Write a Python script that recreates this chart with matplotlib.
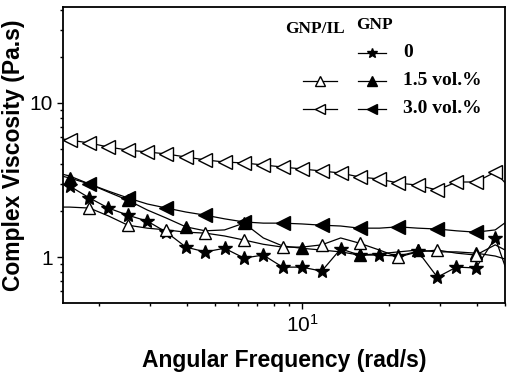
import numpy as np
import matplotlib
matplotlib.use('Agg')
import matplotlib.pyplot as plt
from matplotlib.lines import Line2D
from matplotlib.ticker import FixedLocator, FixedFormatter, NullFormatter, LogLocator

plt.rcParams.update({'mathtext.default': 'regular', 'font.family': 'Liberation Sans'})
tnr = 'Liberation Serif'

# angular frequency (rad/s)
freq = [1.36, 1.58, 1.85, 2.15, 2.51, 2.93, 3.41, 3.98, 4.64, 5.41, 6.31, 7.36, 8.58,
        10.0, 11.7, 13.6, 15.8, 18.5, 21.5, 25.1, 29.3, 34.1, 39.8, 46.4, 54.1]

# complex viscosity (Pa.s)
gnp_0 = [3.2, 2.89, 2.42, 2.08, 1.87, 1.71, 1.45, 1.16, 1.08, 1.14, 0.985, 1.03, 0.86,
         0.86, 0.81, 1.13, 1.03, 1.03, 1.015, 1.09, 0.74, 0.86, 0.85, 1.33, 0.58]
gnp_15 = [3.5, 3.26, 2.98, 2.64, 2.34, 2.02, 1.79, 1.57, 1.48, 1.50, 1.66, 1.33, 1.18,
          1.14, 1.11, 1.08, 1.03, 1.05, 1.08, 1.11, 1.08, 1.08, 1.06, 1.015, 0.93]
gnp_30 = [3.6, 3.36, 2.98, 2.68, 2.42, 2.21, 2.08, 1.96, 1.87, 1.77, 1.69, 1.66, 1.66,
          1.64, 1.61, 1.59, 1.54, 1.54, 1.57, 1.54, 1.52, 1.48, 1.45, 1.50, 1.85]
gnpil_15 = [2.11, 2.11, 2.08, 1.85, 1.61, 1.54, 1.50, 1.45, 1.43, 1.37, 1.29, 1.21, 1.16,
            1.16, 1.20, 1.33, 1.23, 1.11, 1.00, 1.08, 1.11, 1.06, 1.03, 1.20, 1.03]
gnpil_30 = [6.0, 5.75, 5.50, 5.18, 4.95, 4.81, 4.67, 4.46, 4.27, 4.14, 4.08, 3.96, 3.84,
            3.73, 3.62, 3.51, 3.31, 3.21, 3.02, 2.93, 2.72, 3.07, 3.07, 3.56, 2.60]

fig = plt.figure(figsize=(5.1, 3.8), dpi=100)
ax = fig.add_axes([0.1235, 0.2026, 0.8665, 0.779])

lw = 0.9
ax.plot(freq, gnp_0, '-', color='black', lw=lw, marker='*', ms=10, mfc='black', mec='black')
ax.plot(freq, gnp_15, '-', color='black', lw=lw, marker='^', ms=9, mfc='black',
        markevery=(1, 3))
ax.plot(freq, gnpil_15, '-', color='black', lw=lw, marker='^', ms=9, mfc='white',
        mec='black', markevery=(2, 2))
ax.plot(freq, gnp_30, '-', color='black', lw=lw, marker='<', ms=9.5, mfc='black',
        markevery=(2, 2))
ax.plot(freq, gnpil_30, '-', color='black', lw=lw, marker='<', ms=9.5, mfc='white', mec='black')

ax.set_xscale('log')
ax.set_yscale('log')
ax.set_xlim(1.5, 50.1)
ax.set_ylim(0.503, 42)

ax.xaxis.set_major_locator(FixedLocator([10]))
ax.xaxis.set_minor_locator(LogLocator(base=10, subs=np.arange(2, 10)))
ax.xaxis.set_minor_formatter(NullFormatter())
ax.yaxis.set_major_locator(FixedLocator([1, 10]))
ax.yaxis.set_major_formatter(FixedFormatter(['1', '10']))
ax.yaxis.set_minor_locator(LogLocator(base=10, subs=np.arange(2, 10)))
ax.yaxis.set_minor_formatter(NullFormatter())

ax.tick_params(which='both', direction='out', top=False, right=False, width=1.0,
               labelsize=15)
ax.tick_params(which='major', length=4)
ax.tick_params(which='minor', length=2.5)
for s in ax.spines.values():
    s.set_linewidth(1.3)

ax.set_xlabel('Angular Frequency (rad/s)', fontsize=16.5, fontweight='bold', labelpad=10)
ax.set_ylabel('Complex Viscosity (Pa.s)', fontsize=16.5, fontweight='bold', labelpad=3)

# hand made legend (axes fraction)
def handle(x0, x1, y, marker, filled):
    ax.add_line(Line2D([x0, x1], [y, y], transform=ax.transAxes, color='black', lw=lw,
                       clip_on=False))
    ax.add_line(Line2D([(x0 + x1) / 2], [y], transform=ax.transAxes, color='black',
                       marker=marker, ms=7, mfc='black' if filled else 'white',
                       mec='black', clip_on=False))

def tx(px, py):
    return (px - 63) / 442, (303 - py) / 296

lfont = dict(family=tnr, fontweight='bold', transform=ax.transAxes, va='center')
ax.text(*tx(285, 29), 'GNP/IL', fontsize=12.5, ha='left', **lfont)
ax.text(*tx(356, 25), 'GNP', fontsize=12.5, ha='left', **lfont)

rows = [(53, None, '*', '0'), (81, '^', '^', '1.5 vol.%'), (109, '<', '<', '3.0 vol.%')]
for py, m_il, m_gnp, lab in rows:
    y = tx(0, py)[1]
    if m_il:
        handle(tx(303, 0)[0], tx(337, 0)[0], y, m_il, False)
    handle(tx(358, 0)[0], tx(386, 0)[0], y, m_gnp, True)
    ax.text(tx(403, 0)[0], y, lab, fontsize=14, ha='left', **lfont)

fig.savefig('out.png', dpi=100)
